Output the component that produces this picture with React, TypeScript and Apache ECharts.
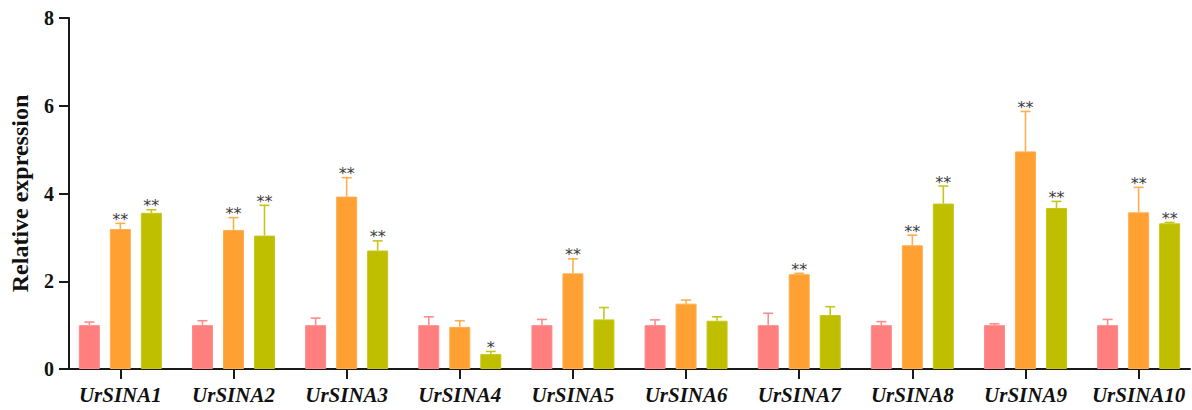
import React, { useEffect, useRef } from "react";
import * as echarts from "echarts";

const categories = ["UrSINA1", "UrSINA2", "UrSINA3", "UrSINA4", "UrSINA5", "UrSINA6", "UrSINA7", "UrSINA8", "UrSINA9", "UrSINA10"];
const ckValues = [1.0, 1.0, 1.0, 1.0, 1.0, 1.0, 1.0, 1.0, 1.0, 1.0];
const ckErrors = [0.07, 0.1, 0.16, 0.19, 0.13, 0.12, 0.27, 0.08, 0.03, 0.13];
const t1Values = [3.19, 3.17, 3.93, 0.96, 2.18, 1.49, 2.16, 2.82, 4.96, 3.57];
const t1Errors = [0.13, 0.28, 0.43, 0.14, 0.33, 0.08, 0.02, 0.23, 0.91, 0.57];
const t2Values = [3.56, 3.04, 2.7, 0.34, 1.13, 1.1, 1.23, 3.77, 3.67, 3.32];
const t2Errors = [0.07, 0.69, 0.22, 0.06, 0.27, 0.09, 0.19, 0.4, 0.15, 0.02];
const ckSig = ["", "", "", "", "", "", "", "", "", ""];
const t1Sig = ["**", "**", "**", "", "**", "", "**", "**", "**", "**"];
const t2Sig = ["**", "**", "**", "*", "", "", "", "**", "**", "**"];
const yTicks = [0, 2, 4, 6, 8];

const BAR_W = 21;
const BAR_GAP = 10;
const SERIF = "'Liberation Serif', 'Times New Roman', serif";

const groups = [
  { name: "CK", values: ckValues, errors: ckErrors, sig: ckSig, color: "#FF7F7F", light: "#FF8C8C", pos: -1 },
  { name: "T1", values: t1Values, errors: t1Errors, sig: t1Sig, color: "#FFA033", light: "#FFAE4F", pos: 0 },
  { name: "T2", values: t2Values, errors: t2Errors, sig: t2Sig, color: "#BFBF00", light: "#C6C61A", pos: 1 },
];

export default function App() {
  const ref = useRef<HTMLDivElement>(null);
  useEffect(() => {
    document.body.style.margin = "0";
    if (!ref.current) return;
    const chart = echarts.init(ref.current, undefined, { renderer: "svg" });
    const idx = categories.map((_, i) => i);
    const series: any[] = [];
    groups.forEach((g) => {
      series.push({
        name: g.name,
        type: "bar",
        barWidth: BAR_W,
        barGap: `${(BAR_GAP / BAR_W) * 100}%`,
        itemStyle: { color: g.color, borderColor: g.light, borderWidth: 1 },
        data: g.values.map((v, i) => [i, v]),
      });
    });
    groups.forEach((g) => {
      series.push({
        name: g.name + " error",
        type: "custom",
        z: 5,
        itemStyle: { color: "#3c3c3c" },
        data: g.values.map((v, i) => [i, v, g.errors[i]]),
        renderItem: (params: any, api: any) => {
          const i = api.value(0);
          const v = api.value(1);
          const e = api.value(2);
          const s = g.sig[i];
          const base = api.coord([i, v]);
          const top = api.coord([i, v + e]);
          const x = base[0] + g.pos * (BAR_W + BAR_GAP);
          const children: any[] = [
            { type: "line", shape: { x1: x, y1: base[1], x2: x, y2: top[1] }, style: { stroke: g.light, lineWidth: 1.6, fill: null } },
            { type: "line", shape: { x1: x - 5, y1: top[1], x2: x + 5, y2: top[1] }, style: { stroke: g.light, lineWidth: 1.6, fill: null } },
          ];
          if (s) {
            children.push({
              type: "text",
              style: {
                text: s,
                x: x,
                y: top[1] + 4,
                align: "center",
                verticalAlign: "bottom",
                fill: "#3c3c3c",
                fontSize: 16,
                fontFamily: "'DejaVu Sans', sans-serif",
              },
            });
          }
          return { type: "group", children };
        },
      });
    });
    chart.setOption({
      animation: false,
      grid: { left: 67, top: 18, width: 1123, bottom: 41, containLabel: false },
      xAxis: {
        type: "value",
        min: -0.454,
        max: 9.454,
        splitLine: { show: false },
        axisLine: { show: true, lineStyle: { color: "#1a1a1a", width: 2 } },
        axisTick: { show: true, length: 10, customValues: idx, lineStyle: { color: "#1a1a1a", width: 2 } },
        axisLabel: {
          customValues: idx,
          formatter: (v: number) => categories[Math.round(v)] ?? "",
          margin: 15,
          color: "#111",
          fontFamily: SERIF,
          fontWeight: "bold",
          fontStyle: "italic",
          fontSize: 21,
        },
      },
      yAxis: {
        type: "value",
        min: yTicks[0],
        max: yTicks[yTicks.length - 1],
        interval: 2,
        name: "Relative expression",
        nameLocation: "middle",
        nameGap: 37,
        nameTextStyle: { fontFamily: SERIF, fontWeight: "bold", fontSize: 24, color: "#111" },
        splitLine: { show: false },
        axisLine: { show: true, onZero: false, lineStyle: { color: "#1a1a1a", width: 2 } },
        axisTick: { show: true, length: 10, lineStyle: { color: "#1a1a1a", width: 2 } },
        axisLabel: { margin: 15, color: "#111", fontFamily: SERIF, fontWeight: "bold", fontSize: 20 },
      },
      series,
    });
    return () => chart.dispose();
  }, []);
  return <div ref={ref} style={{ width: 1192, height: 410 }} />;
}
